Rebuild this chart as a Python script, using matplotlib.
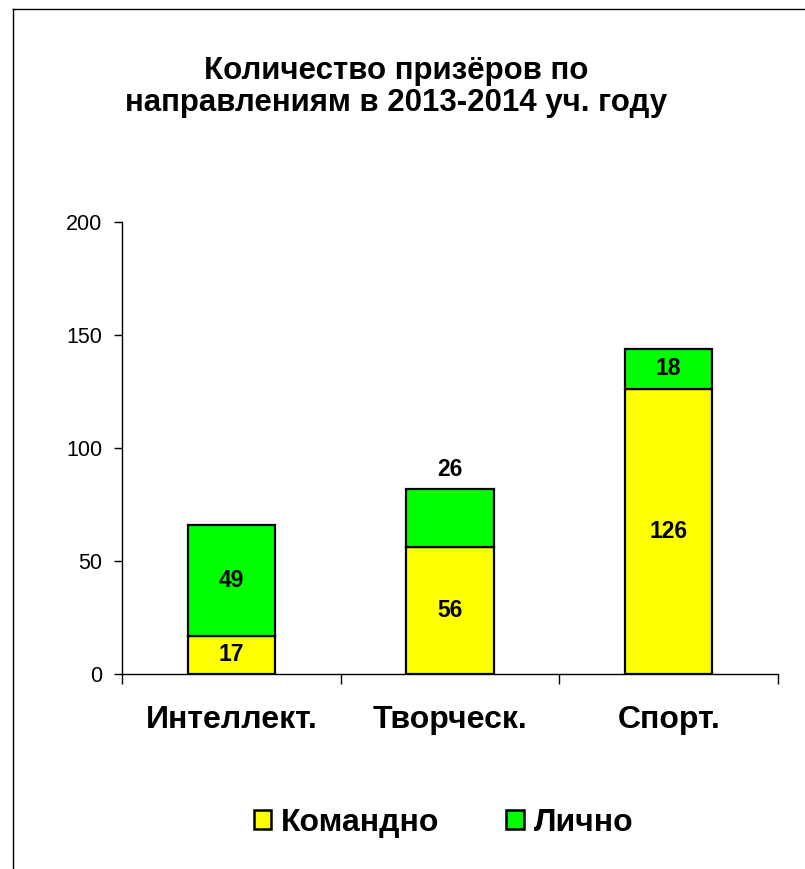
import matplotlib

matplotlib.use("Agg")
import matplotlib.pyplot as plt
import numpy as np
from matplotlib.patches import Rectangle
from matplotlib.lines import Line2D

plt.rcParams["font.family"] = ["Liberation Sans", "DejaVu Sans"]

categories = ["Интеллект.", "Творческ.", "Спорт."]
team = [17, 56, 126]
personal = [49, 26, 18]
series_names = ["Командно", "Лично"]
colors = ["#FFFF00", "#00FF00"]
yticks = [0, 50, 100, 150, 200]
# where the "personal" value label sits (Excel put one above the bar)
personal_label_above = [False, True, False]

fig = plt.figure(figsize=(8.05, 8.69), dpi=100)
ax = fig.add_axes([0.1516, 0.2244, 0.8149, 0.5201])

x = np.arange(len(categories))
w = 0.4
ax.bar(x, team, w, color=colors[0], edgecolor="black", linewidth=1.6)
ax.bar(x, personal, w, bottom=team, color=colors[1], edgecolor="black",
       linewidth=1.6)

for xi, t, p, above in zip(x, team, personal, personal_label_above):
    ax.text(xi, t / 2, str(t), ha="center", va="center", fontsize=16.5,
            fontweight="bold")
    ypos = t + p + 8.5 if above else t + p / 2
    ax.text(xi, ypos, str(p), ha="center", va="center", fontsize=16.5,
            fontweight="bold")

ax.set_xlim(-0.5, 2.5)
ax.set_ylim(0, 200)
ax.set_yticks(yticks)
ax.tick_params(axis="y", labelsize=15.5, length=6, width=1, direction="out",
               pad=8)
ax.set_xticks(np.arange(-0.5, 3, 1))
ax.set_xticklabels([])
ax.set_xticks(x, minor=True)
ax.set_xticklabels(categories, minor=True, fontsize=23, fontweight="bold")
ax.tick_params(axis="x", which="major", length=7, width=1, direction="out")
ax.tick_params(axis="x", which="minor", length=0, pad=22)
for s in ("top", "right"):
    ax.spines[s].set_visible(False)
for s in ("left", "bottom"):
    ax.spines[s].set_linewidth(1)

fig.text(0.492, 0.9, "Количество призёров по\nнаправлениям в 2013-2014 уч. году",
         ha="center", va="center", fontsize=22.5, fontweight="bold",
         linespacing=1.12)

handles = [Rectangle((0, 0), 1, 1, facecolor=c, edgecolor="black", lw=1.8)
           for c in colors]
fig.legend(handles, series_names, loc="center", bbox_to_anchor=(0.551, 0.053),
           ncol=2, frameon=False, prop={"size": 23, "weight": "bold"},
           handlelength=0.55, handleheight=0.55, handletextpad=0.3,
           columnspacing=2.1)

# chart-area frame (left and top edges visible)
fig.add_artist(Line2D([13 / 805, 13 / 805], [0, 1 - 9 / 869],
                      transform=fig.transFigure, color="black", lw=1))
fig.add_artist(Line2D([13 / 805, 1], [1 - 9 / 869, 1 - 9 / 869],
                      transform=fig.transFigure, color="black", lw=1))

fig.savefig("out.png", dpi=100)
